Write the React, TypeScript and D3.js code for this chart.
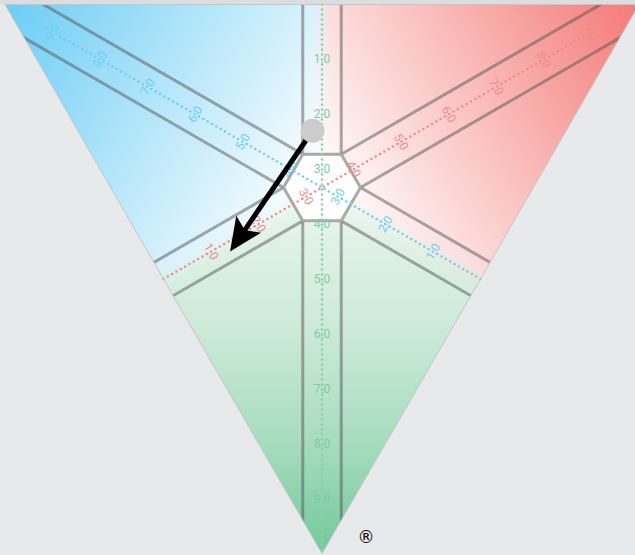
import React, { useEffect, useRef } from 'react';
import * as d3 from 'd3';

// Axis order: blue (top-left corner), red (top-right corner), green (bottom corner)
const axisNames = ['blue', 'red', 'green'];
const axisDomain = [0, 10];
const tickValues = [1, 2, 3, 4, 5, 6, 7, 8, 9];
// ternary readings [blue, red, green] of the marker and of the arrow head
const startReading = [4.0, 3.7, 2.3];
const endReading = [4.2, 1.3, 4.5];

// gradient stops run from the corner (0) to the centre (1)
const palette: Record<string, { stops: [number, string][]; dot: string; text: string }> = {
  blue: { stops: [[0, '#6ccdf5'], [1, '#ffffff']], dot: '#6ccff6', text: '#6ccdf5' },
  red: { stops: [[0, '#f47a76'], [1, '#ffffff']], dot: '#f08c8c', text: '#f08a8a' },
  green: {
    stops: [[0, '#72c89b'], [0.3, '#a6dcbe'], [0.6, '#cbe9d6'], [1, '#ecf7f0']],
    dot: '#8ad1aa',
    text: '#80cca1',
  },
};

const App: React.FC = () => {
  const svgRef = useRef<SVGSVGElement | null>(null);

  useEffect(() => {
    if (!svgRef.current) return;
    const svg = d3.select(svgRef.current);
    svg.selectAll('*').remove();

    const width = 635;
    const height = 555;
    const side = 634;
    const left = 5;
    const top = 4.5;
    const tri = side * Math.sqrt(3) / 2;
    const cx = left + side / 2;

    const vertices: [number, number][] = [
      [left, top],
      [left + side, top],
      [cx, top + tri],
    ];
    const center: [number, number] = [
      d3.mean(vertices, (v) => v[0])!,
      d3.mean(vertices, (v) => v[1])!,
    ];
    const mids = vertices.map((_, i) => {
      const a = vertices[(i + 1) % 3];
      const b = vertices[(i + 2) % 3];
      return [(a[0] + b[0]) / 2, (a[1] + b[1]) / 2] as [number, number];
    });

    // each axis runs from 0 at the middle of a side to 10 at the opposite corner
    const scales = axisNames.map((_, i) =>
      d3.scaleLinear<number[]>().domain(axisDomain).range([mids[i], vertices[i]])
    );
    // d3's array interpolator reuses its output, so copy every position
    const at = (i: number, value: number): [number, number] => {
      const p = scales[i](value);
      return [p[0], p[1]];
    };

    const toPoint = (r: number[]): [number, number] => {
      const total = d3.sum(r);
      return [
        d3.sum(r, (w, i) => w * vertices[i][0]) / total,
        d3.sum(r, (w, i) => w * vertices[i][1]) / total,
      ];
    };

    const defs = svg.append('defs');
    defs
      .append('clipPath')
      .attr('id', 'tri-clip')
      .append('polygon')
      .attr('points', vertices.map((v) => v.join(',')).join(' '));

    const blur = defs
      .append('filter')
      .attr('id', 'soft')
      .attr('filterUnits', 'userSpaceOnUse')
      .attr('x', -200)
      .attr('y', -200)
      .attr('width', 1100)
      .attr('height', 1000);
    blur.append('feGaussianBlur').attr('stdDeviation', 7);

    axisNames.forEach((name, i) => {
      const g = defs
        .append('linearGradient')
        .attr('id', `grad-${name}`)
        .attr('gradientUnits', 'userSpaceOnUse')
        .attr('x1', vertices[i][0])
        .attr('y1', vertices[i][1])
        .attr('x2', center[0])
        .attr('y2', center[1]);
      palette[name].stops.forEach(([offset, color]) => {
        g.append('stop').attr('offset', offset).attr('stop-color', color);
      });
    });

    svg.append('rect').attr('width', width).attr('height', height).attr('fill', '#e8e9eb');
    svg.append('rect').attr('width', width).attr('height', top).attr('fill', '#dcdddf');

    // coloured regions: wedges from the centre bounded by the half-medians
    const angleOf = (p: [number, number]) => Math.atan2(p[1] - center[1], p[0] - center[0]);
    const R = 1000;
    const regions = svg
      .append('g')
      .attr('clip-path', 'url(#tri-clip)')
      .append('g')
      .attr('filter', 'url(#soft)');
    axisNames.forEach((name, i) => {
      const angles = [angleOf(mids[(i + 1) % 3]), angleOf(vertices[i]), angleOf(mids[(i + 2) % 3])];
      const pts = [center, ...angles.map((a) => [center[0] + R * Math.cos(a), center[1] + R * Math.sin(a)])];
      regions
        .append('polygon')
        .attr('points', pts.map((p) => p.join(',')).join(' '))
        .attr('fill', `url(#grad-${name})`);
    });

    // band lines on either side of every axis, interrupted by the hexagon
    const hexR = 38.5;
    const half = hexR / 2;
    const tIn = hexR * Math.sqrt(3) / 2;
    const band = svg.append('g').attr('clip-path', 'url(#tri-clip)');
    const line = d3.line();
    axisNames.forEach((_, i) => {
      const o = at(i, 0);
      const e = at(i, 10);
      const len = Math.hypot(e[0] - o[0], e[1] - o[1]);
      const d = [(e[0] - o[0]) / len, (e[1] - o[1]) / len];
      const n = [-d[1], d[0]];
      [-1, 1].forEach((s) => {
        [
          [tIn, 700],
          [-700, -tIn],
        ].forEach(([t0, t1]) => {
          const p = (t: number): [number, number] => [
            center[0] + s * half * n[0] + t * d[0],
            center[1] + s * half * n[1] + t * d[1],
          ];
          band
            .append('path')
            .attr('d', line([p(t0), p(t1)]))
            .attr('stroke', '#555')
            .attr('stroke-opacity', 0.5)
            .attr('stroke-width', 3)
            .attr('fill', 'none');
        });
      });
    });

    // central hexagon
    const hex = d3.range(6).map((k) => {
      const a = (k * Math.PI) / 3;
      return [center[0] + hexR * Math.cos(a), center[1] + hexR * Math.sin(a)] as [number, number];
    });
    svg
      .append('path')
      .attr('d', d3.line()(hex)! + 'Z')
      .attr('fill', '#ffffff')
      .attr('stroke', '#a9a9a9')
      .attr('stroke-width', 3)
      .attr('stroke-linejoin', 'round');

    // dotted axes and their labels
    const fmt = d3.format('.1f');
    axisNames.forEach((name, i) => {
      const o = at(i, 0);
      const e = at(i, 10);
      svg
        .append('path')
        .attr('d', line([o, e]))
        .attr('stroke', palette[name].dot)
        .attr('stroke-width', 2.6)
        .attr('stroke-linecap', 'round')
        .attr('stroke-dasharray', '0,5')
        .attr('fill', 'none');

      let rot = (Math.atan2(e[1] - o[1], e[0] - o[0]) * 180) / Math.PI + 90;
      if (rot > 90) rot -= 180;
      if (rot < -90) rot += 180;

      svg
        .append('g')
        .selectAll('text')
        .data(tickValues)
        .enter()
        .append('text')
        .attr('transform', (v) => {
          const p = at(i, v);
          return `translate(${p[0]},${p[1]}) rotate(${rot})`;
        })
        .attr('text-anchor', 'middle')
        .attr('dominant-baseline', 'central')
        .attr('font-family', 'Roboto, sans-serif')
        .attr('font-size', 12)
        .attr('fill', palette[name].text)
        .text((v) => fmt(v));
    });

    svg
      .append('polygon')
      .attr('points', vertices.map((v) => v.join(',')).join(' '))
      .attr('fill', 'none')
      .attr('stroke', '#c4c6c8')
      .attr('stroke-width', 1);

    // arrow from the marker to the new reading
    const start = toPoint(startReading);
    const end = toPoint(endReading);
    const ux = end[0] - start[0];
    const uy = end[1] - start[1];
    const ul = Math.hypot(ux, uy);
    const u = [ux / ul, uy / ul];
    const v = [-u[1], u[0]];
    const headLen = 33;
    const headHalf = 15;
    const notch = 7;
    const base = [end[0] - headLen * u[0], end[1] - headLen * u[1]];
    const back: [number, number] = [base[0] + notch * u[0], base[1] + notch * u[1]];
    svg
      .append('path')
      .attr('d', line([start, back]))
      .attr('stroke', '#000')
      .attr('stroke-width', 5)
      .attr('fill', 'none');
    svg
      .append('path')
      .attr(
        'd',
        d3.line()([
          end,
          [base[0] + headHalf * v[0], base[1] + headHalf * v[1]],
          back,
          [base[0] - headHalf * v[0], base[1] - headHalf * v[1]],
        ])! + 'Z'
      )
      .attr('fill', '#000');

    svg
      .append('circle')
      .attr('cx', start[0])
      .attr('cy', start[1])
      .attr('r', 12)
      .attr('fill', '#cccccc');

    svg
      .append('text')
      .attr('x', 366)
      .attr('y', 543)
      .attr('text-anchor', 'middle')
      .attr('font-family', 'DejaVu Sans, sans-serif')
      .attr('font-size', 17)
      .attr('fill', '#000')
      .text('®');
  }, []);

  return (
    <svg
      ref={svgRef}
      width={635}
      height={555}
      style={{ position: 'absolute', left: 0, top: 0, display: 'block' }}
    />
  );
};

export default App;
